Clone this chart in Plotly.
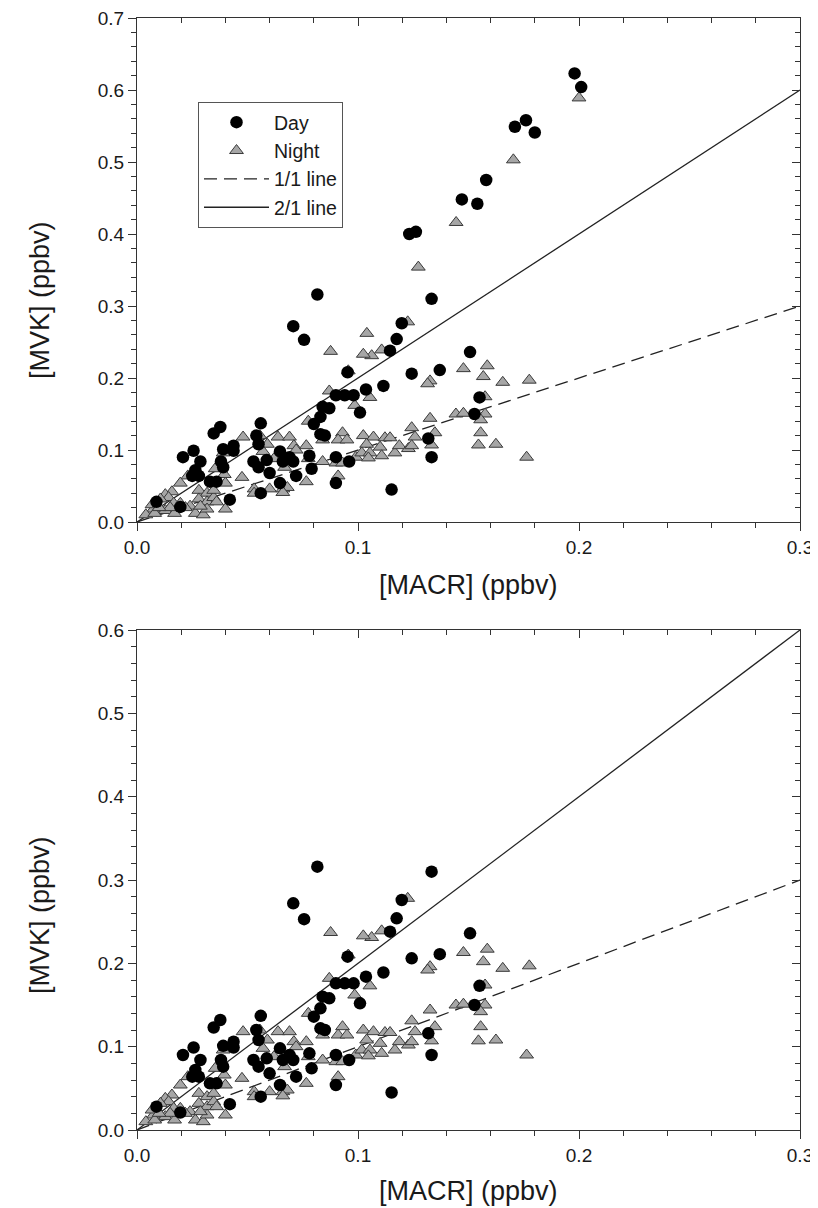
import plotly.graph_objects as go

# ---------------- data (ppbv) ----------------
# Day points shared by both panels
day_x = [0.0377, 0.0347, 0.0256, 0.0208, 0.0287, 0.039, 0.0437, 0.0437, 0.056, 0.054,
         0.055, 0.0527, 0.055, 0.038, 0.039, 0.0264, 0.025, 0.028, 0.033, 0.036,
         0.0088, 0.042, 0.0196, 0.056,
         0.0587, 0.060, 0.066, 0.069, 0.0707, 0.078, 0.079, 0.072, 0.0647, 0.0647,
         0.084, 0.087, 0.083, 0.080, 0.083, 0.085, 0.090, 0.094, 0.098, 0.090, 0.096, 0.090,
         0.1333, 0.1198, 0.1175, 0.1145, 0.1507, 0.1243, 0.137, 0.1036, 0.1115, 0.1009,
         0.155, 0.1527, 0.1318, 0.1333, 0.1152,
         0.0816, 0.0707, 0.0756, 0.0953]
day_y = [0.132, 0.123, 0.099, 0.090, 0.084, 0.101, 0.106, 0.099, 0.137, 0.120,
         0.108, 0.084, 0.076, 0.084, 0.076, 0.072, 0.064, 0.064, 0.056, 0.056,
         0.028, 0.031, 0.021, 0.040,
         0.086, 0.068, 0.084, 0.090, 0.084, 0.092, 0.074, 0.064, 0.054, 0.098,
         0.160, 0.158, 0.146, 0.136, 0.122, 0.120, 0.176, 0.176, 0.176, 0.090, 0.084, 0.054,
         0.310, 0.276, 0.254, 0.238, 0.236, 0.206, 0.211, 0.184, 0.189, 0.152,
         0.173, 0.150, 0.116, 0.090, 0.045,
         0.316, 0.272, 0.253, 0.208]

# Night points shared by both panels
night_x = [0.048, 0.039, 0.0354, 0.0395, 0.040, 0.0475, 0.023, 0.0196, 0.0158, 0.0128,
           0.0143, 0.0075, 0.0068, 0.0128, 0.017, 0.0196, 0.024, 0.028, 0.0317, 0.028,
           0.0317, 0.0347, 0.036, 0.040, 0.0264, 0.030, 0.0317, 0.0219, 0.0166, 0.0106,
           0.015, 0.0347, 0.053, 0.053, 0.0287, 0.004, 0.008, 0.010,
           0.0556, 0.0638, 0.069, 0.059, 0.071, 0.0766, 0.057, 0.062, 0.072, 0.0775,
           0.084, 0.093, 0.091, 0.095, 0.084, 0.090, 0.093, 0.099, 0.0668, 0.091,
           0.0766, 0.060, 0.066, 0.068, 0.066, 0.087, 0.0775, 0.0985,
           0.1225, 0.1107, 0.1062, 0.1024, 0.1326, 0.1315, 0.1477, 0.1585, 0.1567, 0.1655,
           0.1775, 0.1054, 0.1575, 0.1326, 0.1443, 0.1477, 0.1575, 0.1555, 0.1243, 0.1348,
           0.1258, 0.1555, 0.1333, 0.1545, 0.1624, 0.1763, 0.1024, 0.1070, 0.1122, 0.1039,
           0.1100, 0.1017, 0.1054, 0.1047, 0.1107, 0.1167, 0.1187, 0.1228, 0.1243, 0.1145,
           0.0876, 0.0956]
night_y = [0.118, 0.096, 0.074, 0.066, 0.054, 0.062, 0.064, 0.054, 0.042, 0.038,
           0.034, 0.018, 0.024, 0.016, 0.012, 0.026, 0.022, 0.044, 0.040, 0.032,
           0.028, 0.034, 0.028, 0.018, 0.012, 0.010, 0.018, 0.020, 0.026, 0.032,
           0.020, 0.044, 0.046, 0.040, 0.022, 0.010, 0.012, 0.020,
           0.120, 0.118, 0.118, 0.108, 0.106, 0.106, 0.098, 0.088, 0.100, 0.088,
           0.114, 0.124, 0.114, 0.114, 0.084, 0.082, 0.082, 0.090, 0.076, 0.064,
           0.056, 0.046, 0.046, 0.048, 0.041, 0.182, 0.140, 0.162,
           0.278, 0.239, 0.231, 0.233, 0.196, 0.192, 0.213, 0.217, 0.202, 0.194,
           0.197, 0.173, 0.174, 0.144, 0.150, 0.151, 0.150, 0.142, 0.131, 0.124,
           0.118, 0.124, 0.107, 0.107, 0.108, 0.090, 0.120, 0.118, 0.117, 0.108,
           0.104, 0.096, 0.096, 0.089, 0.092, 0.096, 0.106, 0.102, 0.106, 0.117,
           0.237, 0.210]

# Extra high-concentration points only in the upper panel
extra_day_x = [0.198, 0.201, 0.176, 0.171, 0.180, 0.158, 0.147, 0.154, 0.1232, 0.1262]
extra_day_y = [0.623, 0.604, 0.558, 0.549, 0.541, 0.475, 0.448, 0.442, 0.400, 0.403]
extra_night_x = [0.200, 0.1703, 0.1444, 0.1273, 0.104]
extra_night_y = [0.589, 0.503, 0.416, 0.354, 0.262]

# Reference ratio lines
line_x = [0.0, 0.3]
ratio_1 = 1.0
ratio_2 = 2.0

x_range = [0.0, 0.3]
top_y_range = [0.0, 0.7]
bottom_y_range = [0.0, 0.6]

x_title = "[MACR] (ppbv)"
y_title = "[MVK] (ppbv)"

# ---------------- figure ----------------
# page is shown with an 8px body margin, so the figure is sized/placed accordingly
OFF = 8
W, H = 818 - OFF, 1208 - OFF
FONT = "Liberation Sans, Arial, sans-serif"
INK = "#1a1a1a"

def px_x(p):
    return (p - OFF) / W

def px_y(p):
    return 1 - (p - OFF) / H

fig = go.Figure()

def add_panel(xa, ya, dx, dy, nx, ny, show):
    fig.add_trace(go.Scatter(x=line_x, y=[ratio_2 * v for v in line_x], mode="lines",
                             name="2/1 line", line=dict(color="#222", width=1.3),
                             xaxis=xa, yaxis=ya, showlegend=show, legendrank=4, hoverinfo="skip"))
    fig.add_trace(go.Scatter(x=line_x, y=[ratio_1 * v for v in line_x], mode="lines",
                             name="1/1 line", line=dict(color="#222", width=1.3, dash="13px,7px"),
                             xaxis=xa, yaxis=ya, showlegend=show, legendrank=3, hoverinfo="skip"))
    fig.add_trace(go.Scatter(x=nx, y=ny, mode="markers", name="Night",
                             marker=dict(symbol="triangle-up", size=12, color="#a6a6a6",
                                         line=dict(color="#3a3a3a", width=1)),
                             xaxis=xa, yaxis=ya, showlegend=show, legendrank=2))
    fig.add_trace(go.Scatter(x=dx, y=dy, mode="markers", name="Day",
                             marker=dict(symbol="circle", size=12.5, color="black",
                                         line=dict(color="black", width=0)),
                             xaxis=xa, yaxis=ya, showlegend=show, legendrank=1))

add_panel("x", "y", day_x + extra_day_x, day_y + extra_day_y,
          night_x + extra_night_x, night_y + extra_night_y, True)
add_panel("x2", "y2", day_x, day_y, night_x, night_y, False)

# invisible traces to activate mirrored inner-tick axes
for xa, ya in [("x3", "y3"), ("x4", "y4")]:
    fig.add_trace(go.Scatter(x=[0.15], y=[0.3], mode="markers", marker=dict(opacity=0),
                             xaxis=xa, yaxis=ya, showlegend=False, hoverinfo="skip"))

# panel frame positions in page pixels
L, R = 137, 800
TOP_T, TOP_B = 18, 522
BOT_T, BOT_B = 630, 1130
xdom = [px_x(L), px_x(R)]
top_dom = [px_y(TOP_B), px_y(TOP_T)]
bot_dom = [px_y(BOT_B), px_y(BOT_T)]

tickfont = dict(family=FONT, size=19, color=INK)
titlefont = dict(family=FONT, size=27, color=INK)

def xax(anchor):
    return dict(domain=xdom, anchor=anchor, range=x_range, dtick=0.1, tickformat=".1f",
                ticks="outside", ticklen=8, tickwidth=1, tickcolor="#333",
                minor=dict(dtick=0.02, ticks="outside", ticklen=5, tickcolor="#333", tickwidth=1),
                showline=True, linecolor="#333", linewidth=1.2, mirror=True,
                showgrid=False, zeroline=False, tickfont=tickfont, automargin=False,
                ticklabeloverflow="allow")

def yax(anchor, dom, rng):
    return dict(domain=dom, anchor=anchor, range=rng, dtick=0.1, tickformat=".1f",
                ticks="outside", ticklen=8, tickwidth=1, tickcolor="#333",
                minor=dict(dtick=0.02, ticks="outside", ticklen=5, tickcolor="#333", tickwidth=1),
                showline=True, linecolor="#333", linewidth=1.2, mirror=True,
                showgrid=False, zeroline=False, tickfont=tickfont, automargin=False,
                ticklabeloverflow="allow")

def xin(over, anchor):
    return dict(overlaying=over, anchor=anchor, side="top", domain=xdom, range=x_range,
                dtick=0.1, ticks="inside", ticklen=8, tickcolor="#333", showticklabels=False,
                minor=dict(dtick=0.02, ticks="inside", ticklen=5, tickcolor="#333"),
                showline=False, showgrid=False, zeroline=False, automargin=False)

def yin(over, anchor, dom, rng):
    return dict(overlaying=over, anchor=anchor, side="right", domain=dom, range=rng,
                dtick=0.1, ticks="inside", ticklen=8, tickcolor="#333", showticklabels=False,
                minor=dict(dtick=0.02, ticks="inside", ticklen=5, tickcolor="#333"),
                showline=False, showgrid=False, zeroline=False, automargin=False)

annotations = []
for yc in [300, 915]:
    annotations.append(dict(text=y_title, xref="paper", yref="paper",
                            x=px_x(40), y=px_y(yc), textangle=-90,
                            showarrow=False, font=titlefont, xanchor="center", yanchor="middle"))
annotations.append(dict(text=x_title, xref="paper", yref="paper", x=px_x((L + R) / 2),
                        y=px_y(585), showarrow=False, font=titlefont,
                        xanchor="center", yanchor="middle"))
annotations.append(dict(text=x_title, xref="paper", yref="paper", x=px_x((L + R) / 2),
                        y=px_y(1191), showarrow=False, font=titlefont,
                        xanchor="center", yanchor="middle"))

fig.update_layout(
    template="none",
    width=W, height=H,
    margin=dict(l=0, r=0, t=0, b=0),
    paper_bgcolor="white", plot_bgcolor="white",
    font=dict(family=FONT, color=INK),
    xaxis=xax("y"),
    yaxis=yax("x", top_dom, top_y_range),
    xaxis2=xax("y2"),
    yaxis2=yax("x2", bot_dom, bottom_y_range),
    xaxis3=xin("x", "y"),
    yaxis3=yin("y", "x", top_dom, top_y_range),
    xaxis4=xin("x2", "y2"),
    yaxis4=yin("y2", "x2", bot_dom, bottom_y_range),
    legend=dict(x=px_x(198), y=px_y(102), xanchor="left", yanchor="top",
                bgcolor="white", bordercolor="#555", borderwidth=1,
                font=dict(family=FONT, size=19.5, color=INK),
                itemwidth=65, tracegroupgap=0),
    showlegend=True,
    annotations=annotations,
)

fig.write_html("out.html")
